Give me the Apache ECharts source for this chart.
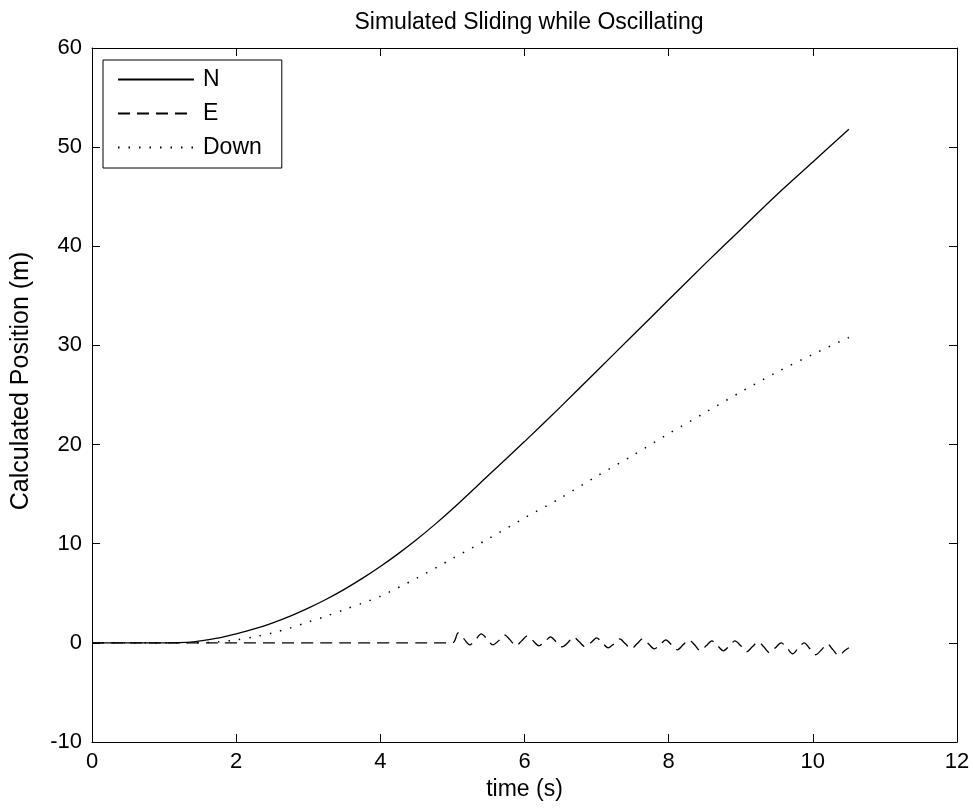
<!DOCTYPE html>
<html>
<head>
<meta charset="utf-8">
<script src="https://cdn.jsdelivr.net/npm/echarts@6/dist/echarts.min.js"></script>
<style>
html,body{margin:0;padding:0;background:#fff;}
#chart{width:973px;height:809px;}
</style>
</head>
<body>
<div id="chart"></div>
<script>
// ---- data ----
var chartTitle = 'Simulated Sliding while Oscillating';
var xName = 'time (s)';
var yName = 'Calculated Position (m)';
var seriesNames = ['N', 'E', 'Down'];

var nTime = [0, 0.5, 1.0, 1.2, 1.4, 1.6, 1.8, 2.0, 2.25, 2.5, 2.75, 3.0, 3.25, 3.5, 3.75, 4.0, 4.25, 4.5, 4.75, 5.0, 5.5, 6.0, 6.5, 7.0, 7.5, 8.0, 8.5, 9.0, 9.5, 10.0, 10.5];
var nVal  = [0, 0, 0, 0.02, 0.1, 0.3, 0.55, 0.9, 1.4, 2.0, 2.7, 3.5, 4.4, 5.4, 6.5, 7.7, 9.0, 10.4, 11.9, 13.5, 16.9, 20.3, 23.8, 27.4, 31.0, 34.6, 38.2, 41.7, 45.2, 48.5, 51.8];

var dTime = [0, 1.0, 1.5, 1.75, 2.0, 2.25, 2.5, 2.75, 3.0, 3.25, 3.5, 3.75, 4.0, 4.5, 5.0, 5.5, 6.0, 6.5, 7.0, 7.5, 8.0, 8.5, 9.0, 9.5, 10.0, 10.5];
var dVal  = [0, 0, 0.02, 0.1, 0.3, 0.6, 1.0, 1.5, 2.1, 2.7, 3.35, 4.0, 4.7, 6.5, 8.5, 10.5, 12.6, 14.6, 16.8, 18.9, 21.1, 23.2, 25.3, 27.3, 29.1, 30.8];

var eTime = [0, 5.00, 5.08, 5.16, 5.24, 5.32, 5.40, 5.48, 5.56, 5.64, 5.72, 5.80, 5.88, 5.96, 6.04, 6.12, 6.20, 6.28, 6.36, 6.44, 6.52, 6.60, 6.68, 6.76, 6.84, 6.92, 7.00, 7.08, 7.16, 7.24, 7.32, 7.40, 7.48, 7.56, 7.64, 7.72, 7.80, 7.88, 7.96, 8.04, 8.12, 8.20, 8.28, 8.36, 8.44, 8.52, 8.60, 8.68, 8.76, 8.84, 8.92, 9.00, 9.08, 9.16, 9.24, 9.32, 9.40, 9.48, 9.56, 9.64, 9.72, 9.80, 9.88, 9.96, 10.04, 10.12, 10.20, 10.28, 10.36, 10.44, 10.50];
var eVal  = [0, 0, 1.0, 0.4, -0.2, 0.3, 0.9, 0.4, -0.2, 0.2, 0.8, 0.3, -0.3, 0.2, 0.7, 0.2, -0.3, 0.1, 0.6, 0.1, -0.4, 0.0, 0.6, 0.1, -0.4, 0.0, 0.5, 0.0, -0.5, -0.1, 0.4, -0.1, -0.6, -0.1, 0.4, -0.1, -0.6, -0.2, 0.3, -0.2, -0.7, -0.2, 0.3, -0.2, -0.8, -0.3, 0.2, -0.3, -0.8, -0.3, 0.2, -0.3, -0.9, -0.4, 0.1, -0.4, -1.0, -0.5, 0.0, -0.5, -1.1, -0.5, 0.0, -0.6, -1.2, -0.7, -0.1, -0.7, -1.3, -0.8, -0.5];

var xTicks = [0, 2, 4, 6, 8, 10, 12];
var yTicks = [-10, 0, 10, 20, 30, 40, 50, 60];

// ---- chart ----
function pairs(t, v) { return t.map(function (x, i) { return [x, v[i]]; }); }

var FONT = '"Liberation Sans", Arial, sans-serif';
var chart = echarts.init(document.getElementById('chart'), null, { renderer: 'canvas' });

var xMin = xTicks[0], xMax = xTicks[xTicks.length - 1], xStep = xTicks[1] - xTicks[0];
var yMin = yTicks[0], yMax = yTicks[yTicks.length - 1], yStep = yTicks[1] - yTicks[0];

function axisBase(extra) {
  var base = {
    type: 'value',
    axisLine: { show: true, onZero: false, lineStyle: { color: '#000', width: 1 } },
    axisTick: { show: true, inside: true, length: 8, lineStyle: { color: '#000', width: 1 } },
    splitLine: { show: false },
    axisLabel: { color: '#000', fontFamily: FONT, fontSize: 22 }
  };
  for (var k in extra) base[k] = extra[k];
  return base;
}

var option = {
  backgroundColor: '#fff',
  animation: false,
  title: {
    text: chartTitle,
    left: 524,
    top: 6,
    textAlign: 'center',
    textStyle: { color: '#000', fontFamily: FONT, fontSize: 23, fontWeight: 'normal' }
  },
  grid: { left: 92, right: 16, top: 48, bottom: 67, containLabel: false },
  legend: {
    data: seriesNames,
    orient: 'vertical',
    left: 103,
    top: 60,
    itemWidth: 76,
    itemHeight: 14,
    itemGap: 11,
    padding: [8, 20, 9, 14],
    borderColor: '#000',
    borderWidth: 1,
    backgroundColor: '#fff',
    itemStyle: { opacity: 0 },
    textStyle: { color: '#000', fontFamily: FONT, fontSize: 23, padding: [0, 0, 0, 4] },
    selectedMode: false
  },
  xAxis: [
    axisBase({ min: xMin, max: xMax, interval: xStep, position: 'bottom',
      name: xName, nameLocation: 'middle', nameGap: 35,
      nameTextStyle: { color: '#000', fontFamily: FONT, fontSize: 23 },
      axisLabel: { color: '#000', fontFamily: FONT, fontSize: 22, margin: 9 } }),
    axisBase({ min: xMin, max: xMax, interval: xStep, position: 'top',
      axisLabel: { show: false } })
  ],
  yAxis: [
    axisBase({ min: yMin, max: yMax, interval: yStep, position: 'left',
      name: yName, nameLocation: 'middle', nameGap: 58, nameRotate: 90,
      nameTextStyle: { color: '#000', fontFamily: FONT, fontSize: 25, padding: [0, 0, 0, 28] },
      axisLabel: { color: '#000', fontFamily: FONT, fontSize: 22, margin: 10 } }),
    axisBase({ min: yMin, max: yMax, interval: yStep, position: 'right',
      axisLabel: { show: false } })
  ],
  series: [
    { name: seriesNames[0], type: 'line', data: pairs(nTime, nVal), symbol: 'none', smooth: 0.3,
      lineStyle: { color: '#000', width: 1.3, type: 'solid' }, itemStyle: { color: '#000' } },
    { name: seriesNames[1], type: 'line', data: pairs(eTime, eVal), symbol: 'none', smooth: 0.3,
      lineStyle: { color: '#000', width: 1.3, type: [12, 7] }, itemStyle: { color: '#000' } },
    { name: seriesNames[2], type: 'line', data: pairs(dTime, dVal), symbol: 'none', smooth: 0.3,
      lineStyle: { color: '#000', width: 1.5, type: [1.5, 9] }, itemStyle: { color: '#000' } }
  ]
};
chart.setOption(option);
</script>
</body>
</html>
